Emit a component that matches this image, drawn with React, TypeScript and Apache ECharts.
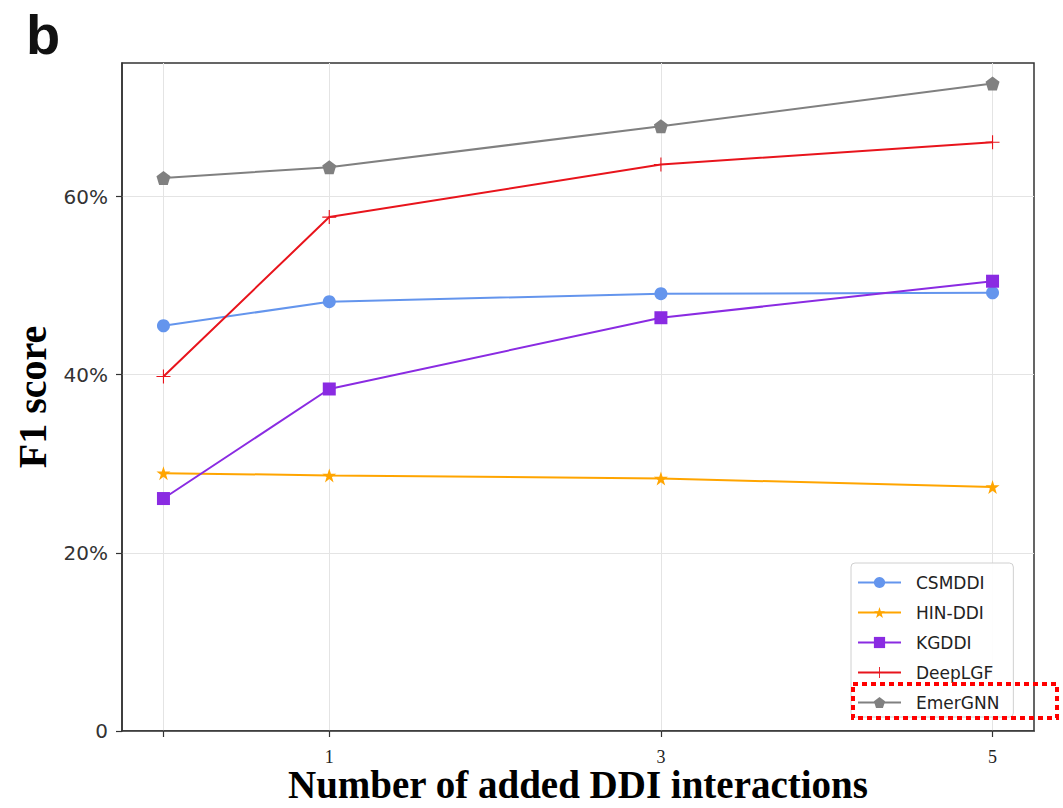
import React, { useEffect, useRef } from "react";
import * as echarts from "echarts";

const xValues = [0, 1, 3, 5];
const xTickLabels: Record<number, string> = { 0: "", 1: "1", 3: "3", 5: "5" };
const yTicks = [0, 20, 40, 60];

const seriesNames = ["CSMDDI", "HIN-DDI", "KGDDI", "DeepLGF", "EmerGNN"];
const csmddi = [45.5, 48.2, 49.1, 49.2];
const hinddi = [28.95, 28.7, 28.35, 27.4];
const kgddi = [26.1, 38.4, 46.4, 50.5];
const deeplgf = [39.8, 57.7, 63.6, 66.1];
const emergnn = [62.1, 63.3, 67.9, 72.7];

const STAR =
  "path://M10,0 L12.245,6.91 L19.51,6.91 L13.633,11.18 L15.88,18.09 L10,13.82 L4.12,18.09 L6.367,11.18 L0.49,6.91 L7.755,6.91 Z";
const PENTAGON = "path://M10,0 L19.51,6.91 L15.88,18.09 L4.12,18.09 L0.49,6.91 Z";
const PLUS =
  "path://M9.2,0 L10.8,0 L10.8,9.2 L20,9.2 L20,10.8 L10.8,10.8 L10.8,20 L9.2,20 L9.2,10.8 L0,10.8 L0,9.2 L9.2,9.2 Z";

export default function App() {
  const ref = useRef<HTMLDivElement>(null);
  useEffect(() => {
    if (!ref.current) return;
    const chart = echarts.init(ref.current, null, { renderer: "svg" });
    const mk = (
      name: string,
      data: number[],
      color: string,
      symbol: string,
      size: number
    ) => ({
      name,
      type: "line",
      data: xValues.map((x, i) => [x, data[i]]),
      symbol,
      symbolSize: size,
      showAllSymbol: true,
      lineStyle: { color, width: 2 },
      itemStyle: { color, borderWidth: 0 },
      emphasis: { disabled: true },
    });
    chart.setOption({
      animation: false,
      backgroundColor: "#fff",
      grid: {
        left: 122,
        top: 63,
        right: 29,
        bottom: 77,
        outerBoundsMode: "none",
        containLabel: false,
        show: true,
        borderColor: "#333",
        borderWidth: 1.5,
        backgroundColor: "transparent",
      },
      xAxis: {
        type: "value",
        min: -0.25,
        max: 5.25,
        name: "Number of added DDI interactions",
        nameLocation: "middle",
        nameGap: 34,
        nameMoveOverlap: false,
        nameTextStyle: {
          fontFamily: "Liberation Serif",
          fontWeight: "bold",
          fontSize: 39,
          lineHeight: 39,
          color: "#000",
        },
        axisLine: { show: true, onZero: false, lineStyle: { color: "#333", width: 1.5 } },
        axisTick: {
          show: true,
          inside: false,
          length: 6,
          customValues: xValues,
          lineStyle: { color: "#333", width: 1.2 },
        },
        axisLabel: {
          customValues: xValues,
          formatter: (v: number) => xTickLabels[v] ?? "",
          fontFamily: "Liberation Serif",
          fontSize: 18,
          color: "#222",
          margin: 17,
        },
        splitLine: { show: true, lineStyle: { color: "#e4e4e4", width: 1 } },
      },
      yAxis: {
        type: "value",
        min: 0,
        max: 75,
        name: "F1 score",
        nameLocation: "middle",
        nameGap: 70,
        nameTextStyle: {
          fontFamily: "Liberation Serif",
          fontWeight: "bold",
          fontSize: 40,
          color: "#000",
        },
        axisLine: { show: true, onZero: false, lineStyle: { color: "#333", width: 1.5 } },
        axisTick: {
          show: true,
          inside: false,
          length: 6,
          customValues: yTicks,
          lineStyle: { color: "#333", width: 1.2 },
        },
        axisLabel: {
          customValues: yTicks,
          formatter: (v: number) => (v === 0 ? "0" : v + "%"),
          fontFamily: "DejaVu Sans",
          fontSize: 20,
          color: "#333",
          margin: 14,
        },
        splitLine: { show: true, lineStyle: { color: "#e4e4e4", width: 1 } },
      },
      legend: {
        orient: "vertical",
        left: 851,
        top: 563,
        data: seriesNames,
        itemWidth: 43,
        itemHeight: 14,
        itemGap: 13,
        padding: [11, 14, 6, 6],
        backgroundColor: "rgba(255,255,255,0.9)",
        borderColor: "#d0d0d0",
        borderWidth: 1,
        borderRadius: 4,
        textStyle: { fontFamily: "DejaVu Sans", fontSize: 17, color: "#222", padding: [0, 0, 0, 10] },
      },
      graphic: [
        {
          type: "text",
          left: 26,
          top: 6,
          style: {
            text: "b",
            fontFamily: "Liberation Sans",
            fontWeight: "bold",
            fontSize: 56,
            fill: "#111",
          },
        },
        {
          type: "rect",
          shape: { x: 853, y: 684, width: 204, height: 34 },
          style: { fill: "none", stroke: "#ff0000", lineWidth: 4, lineDash: [5, 4] },
          z: 100,
        },
      ],
      series: [
        mk("CSMDDI", csmddi, "#6495ED", "circle", 13),
        mk("HIN-DDI", hinddi, "#FFA500", STAR, 14),
        mk("KGDDI", kgddi, "#8A2BE2", "rect", 13),
        mk("DeepLGF", deeplgf, "#E8141C", PLUS, 14),
        mk("EmerGNN", emergnn, "#808080", PENTAGON, 14),
      ],
    });
    return () => chart.dispose();
  }, []);
  return (
    <div
      ref={ref}
      style={{ position: "fixed", left: 0, top: 0, width: 1063, height: 808 }}
    />
  );
}
